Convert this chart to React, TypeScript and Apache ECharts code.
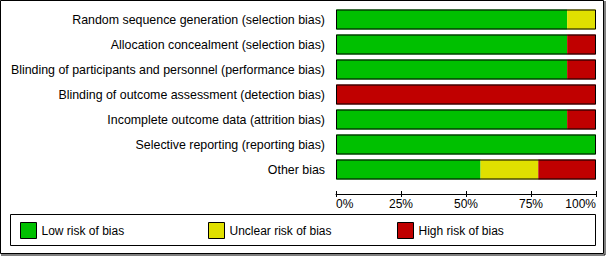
import React, { useEffect, useRef } from "react";
import * as echarts from "echarts";

const categories = [
  "Random sequence generation (selection bias)",
  "Allocation concealment (selection bias)",
  "Blinding of participants and personnel (performance bias)",
  "Blinding of outcome assessment (detection bias)",
  "Incomplete outcome data (attrition bias)",
  "Selective reporting (reporting bias)",
  "Other bias",
];
const lowRisk = [88.9, 88.9, 88.9, 0, 88.9, 100, 55.6];
const unclearRisk = [11.1, 0, 0, 0, 0, 0, 22.2];
const highRisk = [0, 11.1, 11.1, 100, 11.1, 0, 22.2];
const totals = [100, 100, 100, 100, 100, 100, 100];
const seriesNames = ["Low risk of bias", "Unclear risk of bias", "High risk of bias"];
const colors = ["#00C000", "#E0E000", "#C00000"];

const FONT = "Liberation Sans, Arial, sans-serif";

export default function App() {
  const ref = useRef<HTMLDivElement>(null);
  useEffect(() => {
    const chart = echarts.init(ref.current!, undefined, { renderer: "svg" });
    const xBase = {
      type: "value" as const,
      min: 0,
      max: 100,
      interval: 25,
      position: "bottom" as const,
      offset: 12,
      splitLine: { show: false },
    };
    const legendBase = {
      top: 222,
      itemWidth: 16,
      itemHeight: 16,
      icon: "rect",
      itemStyle: { borderColor: "#000", borderWidth: 1 },
      textStyle: { fontSize: 12, color: "#000", fontFamily: FONT },
      padding: 0,
      selectedMode: false,
    };
    chart.setOption({
      animation: false,
      backgroundColor: "#fff",
      textStyle: { fontFamily: FONT },
      grid: { left: 336, width: 260, top: 7, height: 175 },
      xAxis: [
        {
          ...xBase,
          axisLine: { show: true, lineStyle: { color: "#000", width: 1 } },
          axisTick: { show: true, length: 3, lineStyle: { color: "#000" } },
          axisLabel: {
            show: true,
            color: "#000",
            fontSize: 12,
            fontFamily: FONT,
            margin: 4,
            formatter: "{value}%",
            alignMinLabel: "left",
            alignMaxLabel: "right",
          },
        },
        {
          ...xBase,
          axisLine: { show: false },
          axisTick: { show: true, inside: true, length: 3, lineStyle: { color: "#000" } },
          axisLabel: { show: false },
        },
      ],
      yAxis: {
        type: "category",
        data: categories,
        inverse: true,
        axisLine: { show: false },
        axisTick: { show: false },
        axisLabel: { color: "#000", fontSize: 12.4, fontFamily: FONT, margin: 11 },
      },
      legend: seriesNames.map((n, i) => ({
        ...legendBase,
        left: [20, 208, 397][i],
        data: [n],
      })),
      series: [
        ...[lowRisk, unclearRisk, highRisk].map((d, i) => ({
          name: seriesNames[i],
          type: "bar",
          stack: "risk",
          barWidth: 20,
          data: d,
          itemStyle: { color: colors[i] },
        })),
        {
          name: "outline",
          type: "bar",
          barWidth: 20,
          barGap: "-100%",
          data: totals,
          silent: true,
          itemStyle: { color: "transparent", borderColor: "#000", borderWidth: 1 },
        },
      ],
      graphic: [
        {
          type: "rect",
          shape: { x: 0.5, y: 0.5, width: 603, height: 253 },
          style: { fill: "none", stroke: "#000", lineWidth: 1 },
          silent: true,
        },
        {
          type: "polyline",
          shape: { points: [[605, 1], [605, 255], [1, 255]] },
          style: { fill: "none", stroke: "#000", lineWidth: 1 },
          silent: true,
        },
        {
          type: "rect",
          shape: { x: 10.5, y: 214.5, width: 585, height: 31 },
          style: { fill: "none", stroke: "#000", lineWidth: 1 },
          silent: true,
        },
      ],
    });
    return () => chart.dispose();
  }, []);
  return (
    <div
      ref={ref}
      style={{ position: "absolute", left: 0, top: 0, width: 606, height: 256 }}
    />
  );
}
